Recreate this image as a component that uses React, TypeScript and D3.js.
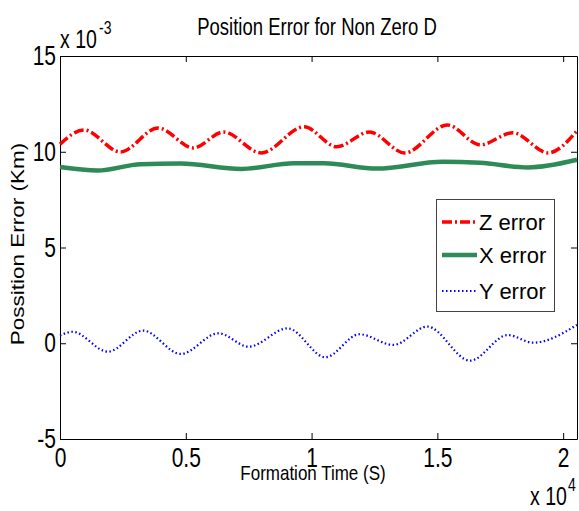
import React, { useRef, useEffect } from "react";
import * as d3 from "d3";

// time in 1e4 s, error in 1e-3 km (as the axes show them)
const zTime = [0, 0.095, 0.24, 0.39, 0.53, 0.65, 0.8, 0.97, 1.1, 1.23, 1.37, 1.54, 1.67, 1.8, 1.94, 2.055];
const zErr = [10.4, 11.14, 9.99, 11.24, 10.2, 11.03, 9.94, 11.3, 10.26, 11.03, 9.94, 11.4, 10.36, 10.99, 9.94, 11.1];

const xTime = [0, 0.15, 0.32, 0.48, 0.72, 0.93, 1.05, 1.26, 1.52, 1.67, 1.86, 2.055];
const xErr = [9.2, 9.02, 9.35, 9.38, 9.1, 9.4, 9.4, 9.12, 9.48, 9.42, 9.18, 9.58];

const yTime = [0, 0.05, 0.19, 0.33, 0.48, 0.63, 0.75, 0.905, 1.055, 1.19, 1.325, 1.46, 1.63, 1.78, 1.88, 2.055];
const yErr = [0.4, 0.6, -0.44, 0.66, -0.56, 0.52, -0.18, 0.78, -0.73, 0.47, -0.09, 0.87, -0.91, 0.43, 0.03, 0.96];

const xTicks = [0, 0.5, 1, 1.5, 2];
const yTicks = [-5, 0, 5, 10, 15];
const legendNames = ["Z error", "X error", "Y error"];

const FONT = "'Liberation Sans', Arial, sans-serif";

function PositionErrorChart() {
  const svgRef = useRef<SVGSVGElement>(null);

  useEffect(() => {
    const svg = d3.select(svgRef.current);
    svg.selectAll("*").remove();

    const left = 60, right = 577, top = 56, bottom = 439;

    const x = d3.scaleLinear().domain([0, 2.055]).range([left, right]);
    const y = d3.scaleLinear().domain([-5, 15]).range([bottom, top]);

    svg.append("rect").attr("width", 579).attr("height", 511).attr("fill", "white");

    // axes, matlab style ticks pointing inside
    const fmt = (d: any) => String(d);
    const gB = svg.append("g").attr("transform", `translate(0,${bottom})`)
      .call(d3.axisBottom(x).tickValues(xTicks).tickFormat(fmt).tickSize(-6).tickSizeOuter(0).tickPadding(7));
    const gL = svg.append("g").attr("transform", `translate(${left},0)`)
      .call(d3.axisLeft(y).tickValues(yTicks).tickFormat(fmt).tickSize(-6).tickSizeOuter(0).tickPadding(4));
    svg.append("g").attr("transform", `translate(0,${top})`)
      .call(d3.axisTop(x).tickValues(xTicks).tickFormat(() => "").tickSize(-6).tickSizeOuter(0));
    svg.append("g").attr("transform", `translate(${right},0)`)
      .call(d3.axisRight(y).tickValues(yTicks).tickFormat(() => "").tickSize(-6).tickSizeOuter(0));

    svg.selectAll(".domain").attr("stroke", "#000").attr("stroke-width", 1);
    svg.selectAll(".tick line").attr("stroke", "#000");

    [gB, gL].forEach((g) => {
      g.attr("font-family", FONT);
      g.selectAll(".tick text")
        .attr("font-size", 21)
        .attr("fill", "#000")
        .attr("transform", "scale(1,1.3)");
    });

    const line = d3.line<[number, number]>()
      .x((d) => x(d[0]))
      .y((d) => y(d[1]))
      .curve(d3.curveMonotoneX);

    const series = [
      { t: zTime, v: zErr, color: "#ff0000", width: 3.5, dash: "10,3,2,3" },
      { t: xTime, v: xErr, color: "#2e8b57", width: 4.5, dash: null },
      { t: yTime, v: yErr, color: "#0000ff", width: 2.2, dash: "1.5,2.5" },
    ];

    series.forEach((s) => {
      const pts = s.t.map((t, i) => [t, s.v[i]] as [number, number]);
      svg.append("path")
        .attr("d", line(pts))
        .attr("fill", "none")
        .attr("stroke", s.color)
        .attr("stroke-width", s.width)
        .attr("stroke-dasharray", s.dash);
    });

    // legend
    const lg = svg.append("g");
    lg.append("rect").attr("x", 436.5).attr("y", 199.5).attr("width", 118).attr("height", 112)
      .attr("fill", "white").attr("stroke", "#444").attr("stroke-width", 1);
    const rowY = [222, 255, 291];
    series.forEach((s, i) => {
      lg.append("line").attr("x1", 442).attr("x2", 477).attr("y1", rowY[i]).attr("y2", rowY[i])
        .attr("stroke", s.color).attr("stroke-width", s.width).attr("stroke-dasharray", s.dash);
      lg.append("text").attr("x", 479).attr("y", rowY[i] + 8)
        .attr("font-family", FONT).attr("font-size", 22).text(legendNames[i]);
    });

    // titles
    const scaledText = (tx: number, ty: number, str: string, size: number, sy: number, anchor: string, rot = 0) =>
      svg.append("text")
        .attr("transform", `translate(${tx},${ty}) scale(1,${sy}) rotate(${rot})`)
        .attr("text-anchor", anchor)
        .attr("font-family", FONT)
        .attr("font-size", size)
        .attr("fill", "#000")
        .text(str);

    scaledText(317, 35, "Position Error for Non Zero D", 18.5, 1.25, "middle");
    scaledText(313, 480, "Formation Time (S)", 17, 1.2, "middle");
    scaledText(24, 244, "Possition Error (Km)", 18, 1.25, "middle", -90);

    // exponents
    scaledText(60, 48, "x 10", 19.5, 1.3, "start");
    scaledText(99, 34, "-3", 14, 1.3, "start");
    scaledText(530, 505, "x 10", 19.5, 1.3, "start");
    scaledText(568, 491, "4", 14, 1.3, "start");
  }, []);

  return (
    <div>
      <svg ref={svgRef} width={579} height={511} style={{ position: "absolute", left: 0, top: 0 }} />
    </div>
  );
}

export default function App() {
  return <PositionErrorChart />;
}
